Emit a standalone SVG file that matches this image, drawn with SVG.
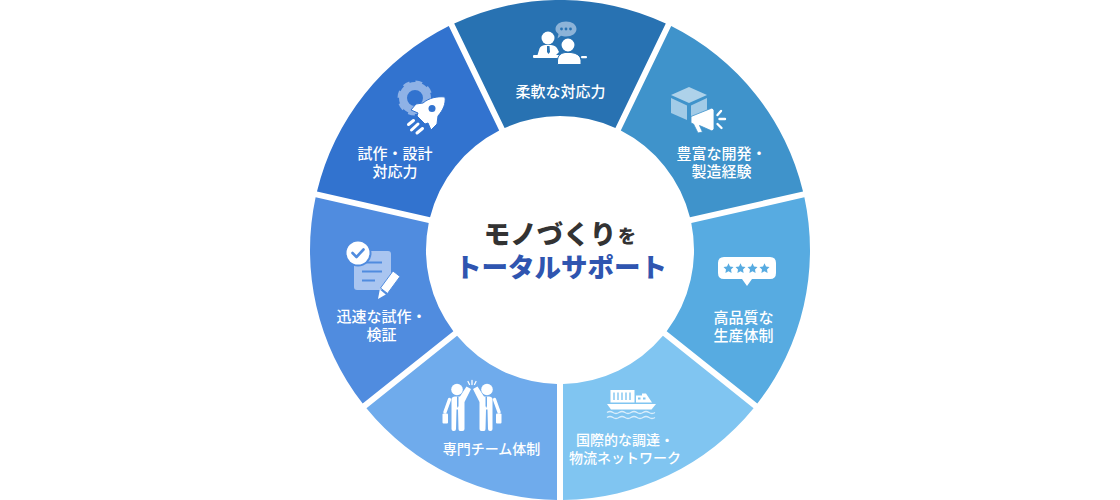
<svg xmlns="http://www.w3.org/2000/svg" width="1120" height="500" viewBox="0 0 1120 500">
<style>
text{font-family:"Noto Sans CJK JP","Noto Sans",sans-serif;text-anchor:middle}
.l{font-size:15px;font-weight:500;fill:#fff}
.s{font-size:14px;font-weight:500;fill:#fff}
.w{fill:#fff}
.r{stroke:#fff;fill:none;stroke-linecap:round}
</style>
<defs>
<g id="man">
<circle cx="457" cy="389.500" r="5.800" fill="#fff"/>
<path class="w" d="M451.500 399Q452 396.500 455 396.500L460 396.500L466.500 386.500L471 389L464.500 402L464.500 429Q464.500 431 462.500 431L460 431Q458.500 431 458.500 429L458 409.500L456.500 409.500L456 429Q456 431 454 431L453.500 431Q451.500 431 451.500 429Z"/>
<path d="M457 396.500L458.500 396.500L458.500 406L457.700 408L457 406Z" fill="#6fabec"/>
<path class="r" d="M449.500 399.500L445 412" stroke-width="3.400"/>
<rect class="w" x="442.500" y="413.500" width="5.500" height="10" rx="1"/>
</g>
</defs>
<rect width="1120" height="500" fill="#fff"/>

<g id="node-flexible">
<path d="M454.200 23.450A250 250 0 0 1 665.800 23.450L615.400 128A134 134 0 0 0 504.600 128Z" fill="#2872b2"/>
<path d="M566 21.500C572 21.500 576.500 24.500 576.500 29C576.500 33.500 572 36.500 566 36.500C564 36.500 562.500 36.300 561 35.800L557.500 38.500L558.500 34C556.500 32.500 555.500 31 555.500 29C555.500 24.500 560 21.500 566 21.500Z" fill="#8cb3d8"/>
<g fill="#2872b2"><circle cx="561.500" cy="29" r="1.400"/><circle cx="566" cy="29" r="1.400"/><circle cx="570.500" cy="29" r="1.400"/></g>
<circle class="w" cx="548" cy="38" r="6.500"/>
<path class="w" d="M537.500 55L539.500 48.500Q540.500 45.500 545 45L551 45Q556 45.500 557.500 49L559 52L556 55Z"/>
<path d="M547 46L549.500 46L550 52L548.500 54L547 52Z" fill="#2872b2"/>
<rect class="w" x="533" y="55" width="27" height="3" rx="1"/>
<circle class="w" cx="568" cy="45" r="7.200" stroke="#2872b2" stroke-width="1.500"/>
<path class="w" d="M557.500 64.500L557.500 60Q558 53.500 565 52.500L571 52.500Q580 53.500 581 60L581 64.500Z" stroke="#2872b2" stroke-width="1"/>
<rect class="w" x="581" y="56" width="6" height="2.200" rx="1"/>
<text class="l" x="560.500" y="97">柔軟な対応力</text>
</g>

<g id="node-experience">
<path d="M671.200 26.050A250 250 0 0 1 803.030 191.480L689.930 217.280A134 134 0 0 0 620.800 130.600Z" fill="#3f93cb"/>
<path d="M671 95L689 87L707 95L689 103Z" fill="#aed2ea"/>
<path d="M671 98L687 105.500L687 120L671 113Z" fill="#a2cbe7"/>
<path d="M691 105.500L707 98L707 110L691 118Z" fill="#a2cbe7"/>
<path class="w" d="M691 116.500L712 108L714 110L714 129L712 131L699.500 125.500L702.500 132L698 133L693.500 124L691 123Z" stroke="#3f93cb" stroke-width="0.800"/>
<path class="r" d="M721 111L717.500 115M725 119L719.500 119M721.500 128L717.500 124" stroke-width="2.400"/>
<text class="l" x="721.500" y="158.500">豊富な開発・</text>
<text class="l" x="721.500" y="176.500">製造経験</text>
</g>

<g id="node-quality">
<path d="M804.370 197.320A250 250 0 0 1 757.320 403.550L666.670 331.150A134 134 0 0 0 691.270 223.120Z" fill="#57abe1"/>
<path class="w" d="M724 257L770 257Q776 257 776 263L776 273Q776 279 770 279L752 279L747 286L742 279L724 279Q718 279 718 273L718 263Q718 257 724 257Z"/>
<g fill="#57abe1">
<path id="st" d="M728.500 263.300L730 266.500L733.500 267L731 269.400L731.600 272.900L728.500 271.200L725.400 272.900L726 269.400L723.500 267L727 266.500Z"/>
<use href="#st" x="12"/><use href="#st" x="24"/><use href="#st" x="36"/>
</g>
<text class="l" x="743.500" y="322.500">高品質な</text>
<text class="l" x="743.500" y="340.500">生産体制</text>
</g>

<g id="node-global">
<path d="M753.580 408.250A250 250 0 0 1 563 500L563 384A134 134 0 0 0 662.930 335.850Z" fill="#80c5f1"/>
<rect class="w" x="610.500" y="390" width="24" height="12.500"/>
<path d="M614 392.500V400M618 392.500V400M622 392.500V400M626 392.500V400M630 392.500V400" stroke="#80c5f1" stroke-width="1.400" fill="none"/>
<path class="w" d="M636 395.500L642 395.500L642 393.500L646 393.500L652 402.500L636 402.500Z"/>
<rect x="638" y="397.500" width="2.500" height="2" fill="#80c5f1"/><rect x="643" y="397.500" width="2.500" height="2" fill="#80c5f1"/>
<path class="w" d="M607 404L656 404L651.500 409.500L611 409.500Z"/>
<path d="M607 412.500q3 -2 6 0t6 0t6 0t6 0t6 0t6 0t6 0t6 0M607 417.500q3 -2 6 0t6 0t6 0t6 0t6 0t6 0t6 0t6 0" stroke="#d8edfb" stroke-width="1.400" fill="none"/>
<text class="s" x="625" y="445">国際的な調達・</text>
<text class="s" x="625" y="463">物流ネットワーク</text>
</g>

<g id="node-team">
<path d="M557 500A250 250 0 0 1 366.420 408.250L457.070 335.850A134 134 0 0 0 557 384Z" fill="#6fabec"/>
<use href="#man"/>
<use href="#man" transform="translate(944 0) scale(-1 1)"/>
<path class="r" d="M468 381.500L469.500 384.500M472 380.500L472 384.500M476 381.500L474.500 384.500" stroke-width="1.300"/>
<text class="s" x="491.500" y="454">専門チーム体制</text>
</g>

<g id="node-speed">
<path d="M362.680 403.550A250 250 0 0 1 315.630 197.320L428.730 223.120A134 134 0 0 0 453.330 331.150Z" fill="#508cdf"/>
<rect x="354" y="251" width="37" height="39" rx="3" fill="#a9c5f0"/>
<path d="M362 262.500H382M362 271.500H382M362 280.500H375" stroke="#508cdf" stroke-width="2" fill="none"/>
<circle cx="358" cy="253" r="13.500" fill="#508cdf"/>
<circle cx="358" cy="253" r="11.500" fill="#fff"/>
<path d="M352.500 253L356.500 257L363.500 249.500" stroke="#508cdf" stroke-width="2.600" fill="none" stroke-linecap="round" stroke-linejoin="round"/>
<path class="w" d="M393 271L400 276.500L387.500 293.500L380.500 288Z" stroke="#508cdf" stroke-width="1"/>
<path class="w" d="M379.800 289.500L385.800 294.500L378 299Z"/>
<text class="l" x="381.500" y="321.500">迅速な試作・</text>
<text class="l" x="381.500" y="339.500">検証</text>
</g>

<g id="node-prototype">
<path d="M316.970 191.480A250 250 0 0 1 448.800 26.050L499.200 130.600A134 134 0 0 0 430.070 217.280Z" fill="#3273cf"/>
<circle cx="415" cy="98" r="12" fill="none" stroke="#8fb2e6" stroke-width="8"/>
<circle cx="415" cy="98" r="15.500" fill="none" stroke="#8fb2e6" stroke-width="4" stroke-dasharray="6.500 5.670"/>
<path d="M445 97C437 96 429 98 423 103L416 104L411 110L418 113L417 116L425 124L428 123L431 130L437 124L438 116C443 110 446 104 445 97Z" fill="#fff" stroke="#3273cf" stroke-width="1"/>
<circle cx="432" cy="108.500" r="3.500" fill="#3273cf"/>
<path class="r" d="M413.500 120.500L408.500 124.500M418 124L411.500 130M422.500 128.500L417 133" stroke-width="3"/>
<text class="l" x="395" y="158.500">試作・設計</text>
<text class="l" x="395" y="176.500">対応力</text>
</g>

<g id="node-center">
<text x="550" y="244" font-size="26.500" font-weight="900" fill="#333">モノづくり</text>
<text x="627" y="243" font-size="18" font-weight="900" fill="#333">を</text>
<text x="561" y="277" font-size="26.500" font-weight="900" fill="#2f55b0">トータルサポート</text>
</g>
</svg>
